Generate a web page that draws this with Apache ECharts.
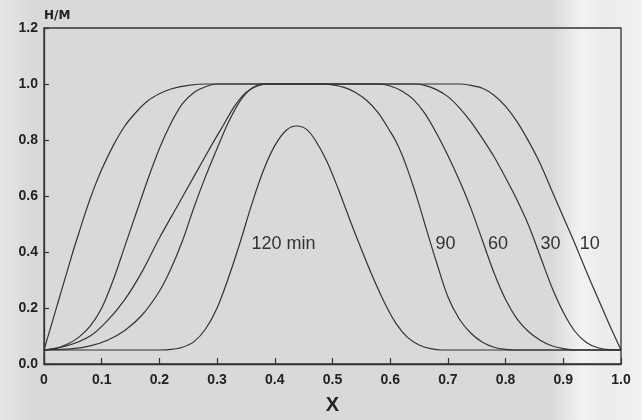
<!DOCTYPE html>
<html>
<head>
<meta charset="utf-8">
<script src="https://cdn.jsdelivr.net/npm/echarts@6/dist/echarts.min.js"></script>
<style>
html,body{margin:0;padding:0;background:#d9d9d9;}
#c{width:642px;height:420px;}
</style>
</head>
<body>
<div id="c"></div>
<script>
// ---- data ----
var xTicks = [0, 0.1, 0.2, 0.3, 0.4, 0.5, 0.6, 0.7, 0.8, 0.9, 1.0];
var yTicks = [0, 0.2, 0.4, 0.6, 0.8, 1.0, 1.2];

var min10 = [[0,0.05],[0.01,0.12],[0.02,0.19],[0.03,0.26],[0.04,0.33],[0.05,0.4],[0.06,0.465],[0.07,0.53],[0.08,0.59],[0.09,0.645],[0.1,0.695],[0.12,0.78],[0.14,0.85],[0.16,0.9],[0.18,0.94],[0.2,0.965],[0.22,0.982],[0.25,0.995],[0.28,1.0],[0.72,1.0],[0.74,0.995],[0.76,0.985],[0.78,0.96],[0.8,0.92],[0.82,0.865],[0.84,0.795],[0.86,0.715],[0.88,0.62],[0.9,0.525],[0.92,0.43],[0.94,0.33],[0.96,0.235],[0.98,0.14],[1.0,0.05]];

var min30 = [[0,0.05],[0.02,0.055],[0.04,0.07],[0.06,0.095],[0.08,0.135],[0.1,0.2],[0.12,0.3],[0.14,0.42],[0.16,0.54],[0.18,0.66],[0.2,0.77],[0.22,0.86],[0.24,0.93],[0.26,0.97],[0.28,0.99],[0.3,1.0],[0.64,1.0],[0.66,0.995],[0.68,0.98],[0.7,0.955],[0.72,0.915],[0.74,0.865],[0.76,0.805],[0.78,0.74],[0.8,0.665],[0.82,0.585],[0.84,0.495],[0.86,0.385],[0.88,0.275],[0.9,0.185],[0.92,0.117],[0.94,0.077],[0.96,0.058],[0.98,0.051],[1.0,0.05]];

var min60 = [[0,0.05],[0.04,0.065],[0.08,0.1],[0.11,0.155],[0.14,0.23],[0.17,0.33],[0.2,0.45],[0.23,0.56],[0.26,0.67],[0.29,0.78],[0.31,0.85],[0.33,0.92],[0.35,0.97],[0.37,0.993],[0.39,1.0],[0.58,1.0],[0.6,0.993],[0.62,0.975],[0.64,0.945],[0.66,0.895],[0.68,0.825],[0.7,0.745],[0.72,0.655],[0.74,0.555],[0.76,0.44],[0.78,0.325],[0.8,0.23],[0.82,0.16],[0.84,0.115],[0.86,0.085],[0.88,0.065],[0.9,0.055],[0.92,0.05],[1.0,0.05]];

var min90 = [[0,0.05],[0.05,0.055],[0.08,0.065],[0.11,0.085],[0.14,0.12],[0.17,0.175],[0.2,0.26],[0.22,0.34],[0.24,0.44],[0.26,0.56],[0.28,0.67],[0.3,0.77],[0.32,0.865],[0.34,0.94],[0.36,0.985],[0.38,1.0],[0.48,1.0],[0.5,0.997],[0.52,0.988],[0.54,0.97],[0.56,0.94],[0.58,0.895],[0.6,0.83],[0.61,0.795],[0.62,0.75],[0.63,0.695],[0.64,0.635],[0.65,0.57],[0.66,0.5],[0.68,0.365],[0.7,0.24],[0.72,0.16],[0.74,0.11],[0.76,0.078],[0.78,0.06],[0.8,0.052],[0.82,0.05],[1.0,0.05]];

var min120 = [[0,0.05],[0.2,0.05],[0.22,0.052],[0.24,0.06],[0.26,0.08],[0.28,0.125],[0.3,0.2],[0.32,0.31],[0.34,0.435],[0.36,0.57],[0.38,0.69],[0.4,0.78],[0.42,0.835],[0.4375,0.85],[0.455,0.838],[0.47,0.8],[0.49,0.725],[0.51,0.625],[0.53,0.515],[0.55,0.41],[0.57,0.31],[0.59,0.22],[0.61,0.145],[0.63,0.095],[0.65,0.068],[0.67,0.055],[0.69,0.05],[1.0,0.05]];

var curveNames = ['10', '30', '60', '90', '120 min'];
var labelX = [0.946, 0.878, 0.787, 0.696, 0.415];
var labelY = [0.428, 0.428, 0.428, 0.428, 0.428];

// ---- chart ----
var curves = [min10, min30, min60, min90, min120];
var chart = echarts.init(document.getElementById('c'), null, {renderer: 'canvas'});

var lineColor = '#333';
var series = curves.map(function (d, i) {
  return {
    type: 'line',
    name: curveNames[i],
    data: d,
    showSymbol: false,
    smooth: 0.3,
    lineStyle: {color: lineColor, width: 1.2},
    silent: true,
    markPoint: {
      symbol: 'circle',
      symbolSize: 0,
      silent: true,
      data: [{
        coord: [labelX[i], labelY[i]],
        label: {
          show: true,
          formatter: curveNames[i],
          position: 'inside',
          color: '#333',
          fontFamily: 'Liberation Sans, Arial, sans-serif',
          fontSize: 18
        }
      }]
    }
  };
});

var labelFont = {
  fontFamily: 'Liberation Sans, Arial, sans-serif',
  fontWeight: 'bold',
  fontSize: 14,
  color: '#222'
};

chart.setOption({
  backgroundColor: new echarts.graphic.LinearGradient(0, 0, 1, 0, [
    {offset: 0, color: '#e6e6e6'},
    {offset: 0.05, color: '#d9d9d9'},
    {offset: 0.86, color: '#d9d9d9'},
    {offset: 0.905, color: '#f3f3f3'},
    {offset: 0.94, color: '#ebebeb'},
    {offset: 1, color: '#f2f2f2'}
  ]),
  animation: false,
  grid: {
    left: 44, right: 21, top: 28, bottom: 53,
    show: true,
    borderColor: '#333',
    borderWidth: 1.3,
    backgroundColor: 'transparent'
  },
  xAxis: {
    type: 'value',
    min: 0, max: 1, interval: 0.1,
    name: 'X',
    nameLocation: 'middle',
    nameGap: 31,
    nameTextStyle: {
      fontFamily: 'Liberation Sans, Arial, sans-serif',
      fontWeight: 'bold', fontSize: 20, color: '#222'
    },
    axisLine: {lineStyle: {color: '#333', width: 1.3}},
    axisTick: {inside: true, length: 6, lineStyle: {color: '#333', width: 1.2}},
    splitLine: {show: false},
    axisLabel: Object.assign({
      margin: 9,
      formatter: function (v) { return v === 0 ? '0' : v.toFixed(1); }
    }, labelFont)
  },
  yAxis: {
    type: 'value',
    min: 0, max: 1.2, interval: 0.2,
    name: 'H/M',
    nameLocation: 'end',
    nameGap: 6,
    nameTextStyle: {
      fontFamily: 'DejaVu Sans, sans-serif',
      fontWeight: 'bold', fontSize: 12, color: '#222',
      align: 'left'
    },
    axisLine: {show: true, lineStyle: {color: '#333', width: 1.3}},
    axisTick: {show: true, inside: true, length: 5, lineStyle: {color: '#333', width: 1.2}},
    splitLine: {show: false},
    axisLabel: Object.assign({
      margin: 6,
      formatter: function (v) { return v.toFixed(1); }
    }, labelFont)
  },
  series: series
});
</script>
</body>
</html>
